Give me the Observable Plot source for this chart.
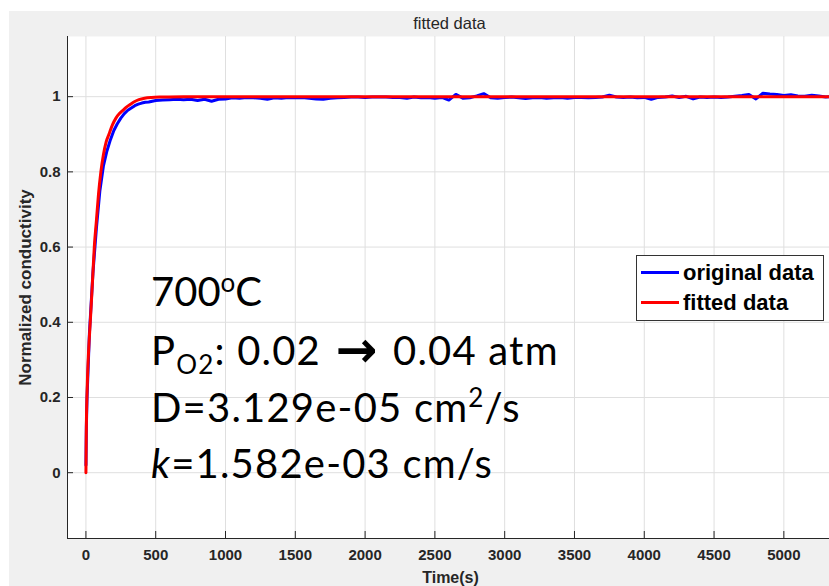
<!DOCTYPE html>
<html>
<head>
<meta charset="utf-8">
<script src="https://cdn.jsdelivr.net/npm/d3@7"></script>
<script src="https://cdn.jsdelivr.net/npm/@observablehq/plot@0.6"></script>
<style>
  html, body { margin: 0; padding: 0; background: #ffffff; }
  #wrap { position: relative; width: 829px; height: 586px; overflow: hidden; background: #ffffff; }
  #fig { position: absolute; left: 9px; top: 11px; width: 820px; height: 575px; background: #f0f0f0; }
  #fig svg { position: absolute; left: 0; top: 0; }
  #legend { position: absolute; left: 636px; top: 255px; width: 186px; height: 64px; background: #ffffff;
            border: 1px solid #333333; font-family: Arial, "Liberation Sans", sans-serif; font-weight: bold;
            font-size: 22px; color: #000; }
  #legend .sw { position: absolute; left: 4px; width: 38px; height: 3px; }
  #legend .lab { position: absolute; left: 46px; white-space: nowrap; line-height: 22px; }
  #note { position: absolute; left: 0; top: 0; }
</style>
</head>
<body>
<div id="wrap">
  <div id="fig"></div>
  <svg id="note" width="829" height="586"></svg>
  <div id="legend">
    <div class="sw" style="top:15px;background:#0000ff"></div>
    <div class="lab" style="top:6px">original data</div>
    <div class="sw" style="top:45px;background:#ff0000"></div>
    <div class="lab" style="top:36px">fitted data</div>
  </div>
</div>
<script>
// ---- data ----
const xTicks = [0, 500, 1000, 1500, 2000, 2500, 3000, 3500, 4000, 4500, 5000];
const yTicks = [0, 0.2, 0.4, 0.6, 0.8, 1];

// fitted curve (time in s, normalized conductivity)
const fitTime = [0, 2, 4, 7, 12, 20, 31, 40, 50, 60, 75, 90, 107, 125, 145, 165, 190, 215, 240, 263, 290, 320, 350, 380, 420, 470, 550, 700, 1000, 2000, 3000, 4000, 5000, 5400];
const fitValue = [0, 0.09, 0.15, 0.2, 0.26, 0.33, 0.4, 0.46, 0.53, 0.6, 0.67, 0.74, 0.8, 0.845, 0.88, 0.9, 0.925, 0.943, 0.955, 0.963, 0.972, 0.98, 0.987, 0.992, 0.996, 0.998, 0.999, 1.0, 1.0, 1.0, 1.0, 1.0, 1.0, 1.0];

// original measured data, early part
const origEarlyTime = [0, 3, 8, 25, 50, 75, 100, 125, 150, 175, 200, 225, 250, 275, 300, 325, 350, 375, 400, 425, 450, 475, 500];
const origEarlyValue = [0.02, 0.12, 0.2, 0.37, 0.53, 0.65, 0.75, 0.815, 0.855, 0.885, 0.91, 0.928, 0.943, 0.955, 0.964, 0.97, 0.976, 0.98, 0.983, 0.985, 0.986, 0.988, 0.99];
// original measured data, later part (t = 550..5350 every 50 s)
const origLateStart = 550, origLateStep = 50;
const origLateValue = [
  0.991, 0.992, 0.993, 0.992, 0.993, 0.990, 0.993, 0.988, 0.993, 0.994,
  0.997, 0.996, 0.998, 0.997, 0.996, 0.993, 0.997, 0.996, 0.998, 0.997,
  0.998, 0.996, 0.994, 0.993, 0.996, 0.997, 0.998, 0.999, 0.999, 0.998,
  0.999, 0.999, 0.999, 0.998, 0.998, 0.996, 0.999, 0.997, 0.998, 0.996,
  0.998, 0.991, 1.006, 0.996, 0.997, 1.002, 1.008, 0.997, 0.996, 0.998,
  0.999, 0.997, 0.995, 0.997, 0.998, 0.996, 0.997, 0.998, 0.996, 0.998,
  0.998, 0.997, 0.998, 0.999, 1.004, 0.999, 0.998, 0.999, 0.997, 0.998,
  0.993, 0.998, 0.999, 1.002, 0.998, 1.001, 0.994, 0.999, 0.998, 0.999,
  0.998, 0.999, 1.001, 1.003, 1.006, 0.994, 1.009, 1.007, 1.006, 1.003,
  1.005, 1.002, 1.001, 1.004, 1.002, 0.999, 1.001
];

const xDomain = [-132, 5327];
const yDomain = [-0.175, 1.16];

// ---- build tables ----
const fit = fitTime.map((t, i) => ({t, v: fitValue[i]}));
const orig = origEarlyTime.map((t, i) => ({t, v: origEarlyValue[i]}))
  .concat(origLateValue.map((v, i) => ({t: origLateStart + i * origLateStep, v})));

const W = 820, H = 575, mL = 58, mT = 25, mR = 0, mB = 48;
const plotW = W - mL - mR, plotH = H - mT - mB;
const ink = "#262626";

const chart = Plot.plot({
  width: W, height: H,
  marginLeft: mL, marginTop: mT, marginRight: mR, marginBottom: mB,
  style: {background: "transparent", fontFamily: "Arial, 'Liberation Sans', sans-serif", overflow: "visible"},
  x: {domain: xDomain},
  y: {domain: yDomain},
  marks: [
    Plot.frame({fill: "#ffffff", stroke: null}),
    Plot.gridX(xTicks, {stroke: "#dfdfdf", strokeOpacity: 1}),
    Plot.gridY(yTicks, {stroke: "#dfdfdf", strokeOpacity: 1}),
    Plot.lineY(orig, {x: "t", y: "v", stroke: "#0000ff", strokeWidth: 3, clip: true}),
    Plot.lineY(fit, {x: "t", y: "v", stroke: "#ff0000", strokeWidth: 3, clip: true, curve: "monotone-x"}),
    Plot.ruleX([xDomain[0]], {stroke: ink}),
    Plot.ruleY([yDomain[0]], {stroke: ink}),
    Plot.ruleX(xTicks, {stroke: ink, insetTop: plotH - 7}),
    Plot.ruleY(yTicks, {stroke: ink, insetRight: plotW - 6}),
    Plot.axisX(xTicks, {tickSize: 0, tickPadding: 11, fontSize: 15, fontWeight: "bold", fill: ink, label: null, tickFormat: d => String(d)}),
    Plot.axisY(yTicks, {tickSize: 0, tickPadding: 7, fontSize: 15, fontWeight: "bold", fill: ink, label: null, tickFormat: d => String(d)}),
    Plot.text(["Normalized conductivity"], {frameAnchor: "left", rotate: -90, dx: -42, dy: 0, fontSize: 17, fontWeight: "bold", fill: ink, lineAnchor: "middle", textAnchor: "middle"}),
    Plot.text(["Time(s)"], {frameAnchor: "bottom", dx: 2, dy: 39, fontSize: 16, fontWeight: "bold", fill: ink, lineAnchor: "middle"}),
    Plot.text(["fitted data"], {frameAnchor: "top", dx: 1, dy: -13, fontSize: 16.5, fill: ink, lineAnchor: "middle"})
  ]
});
document.getElementById("fig").appendChild(chart);

// ---- annotation text ----
const note = d3.select("#note");
const g = note.append("g").attr("font-family", "Lato, 'Open Sans', sans-serif").attr("font-size", 40)
  .attr("fill", "#000").attr("letter-spacing", 1.2);
const x0 = 151;
let t1 = g.append("text").attr("x", x0).attr("y", 306).attr("letter-spacing", 0);
t1.append("tspan").text("700");
t1.append("tspan").attr("font-size", 26).attr("dy", -14).text("o");
t1.append("tspan").attr("dy", 14).text("C");
let t2 = g.append("text").attr("x", x0).attr("y", 365);
t2.append("tspan").text("P");
t2.append("tspan").attr("font-size", 26).attr("dy", 9).text("O2");
t2.append("tspan").attr("dy", -9).text(": 0.02 ");
t2.append("tspan").attr("font-family", "'DejaVu Sans', sans-serif").attr("font-weight", "bold")
  .attr("font-size", 50).attr("dx", 3).attr("dy", 2).text("\u2192");
t2.append("tspan").attr("dx", 3).attr("dy", -2).text(" 0.04 atm");
let t3 = g.append("text").attr("x", x0).attr("y", 422);
t3.append("tspan").text("D=3.129e-05 cm");
t3.append("tspan").attr("font-size", 26).attr("dy", -15).text("2");
t3.append("tspan").attr("dy", 15).text("/s");
let t4 = g.append("text").attr("x", x0).attr("y", 478);
t4.append("tspan").attr("font-style", "italic").text("k");
t4.append("tspan").text("=1.582e-03 cm/s");
</script>
</body>
</html>
